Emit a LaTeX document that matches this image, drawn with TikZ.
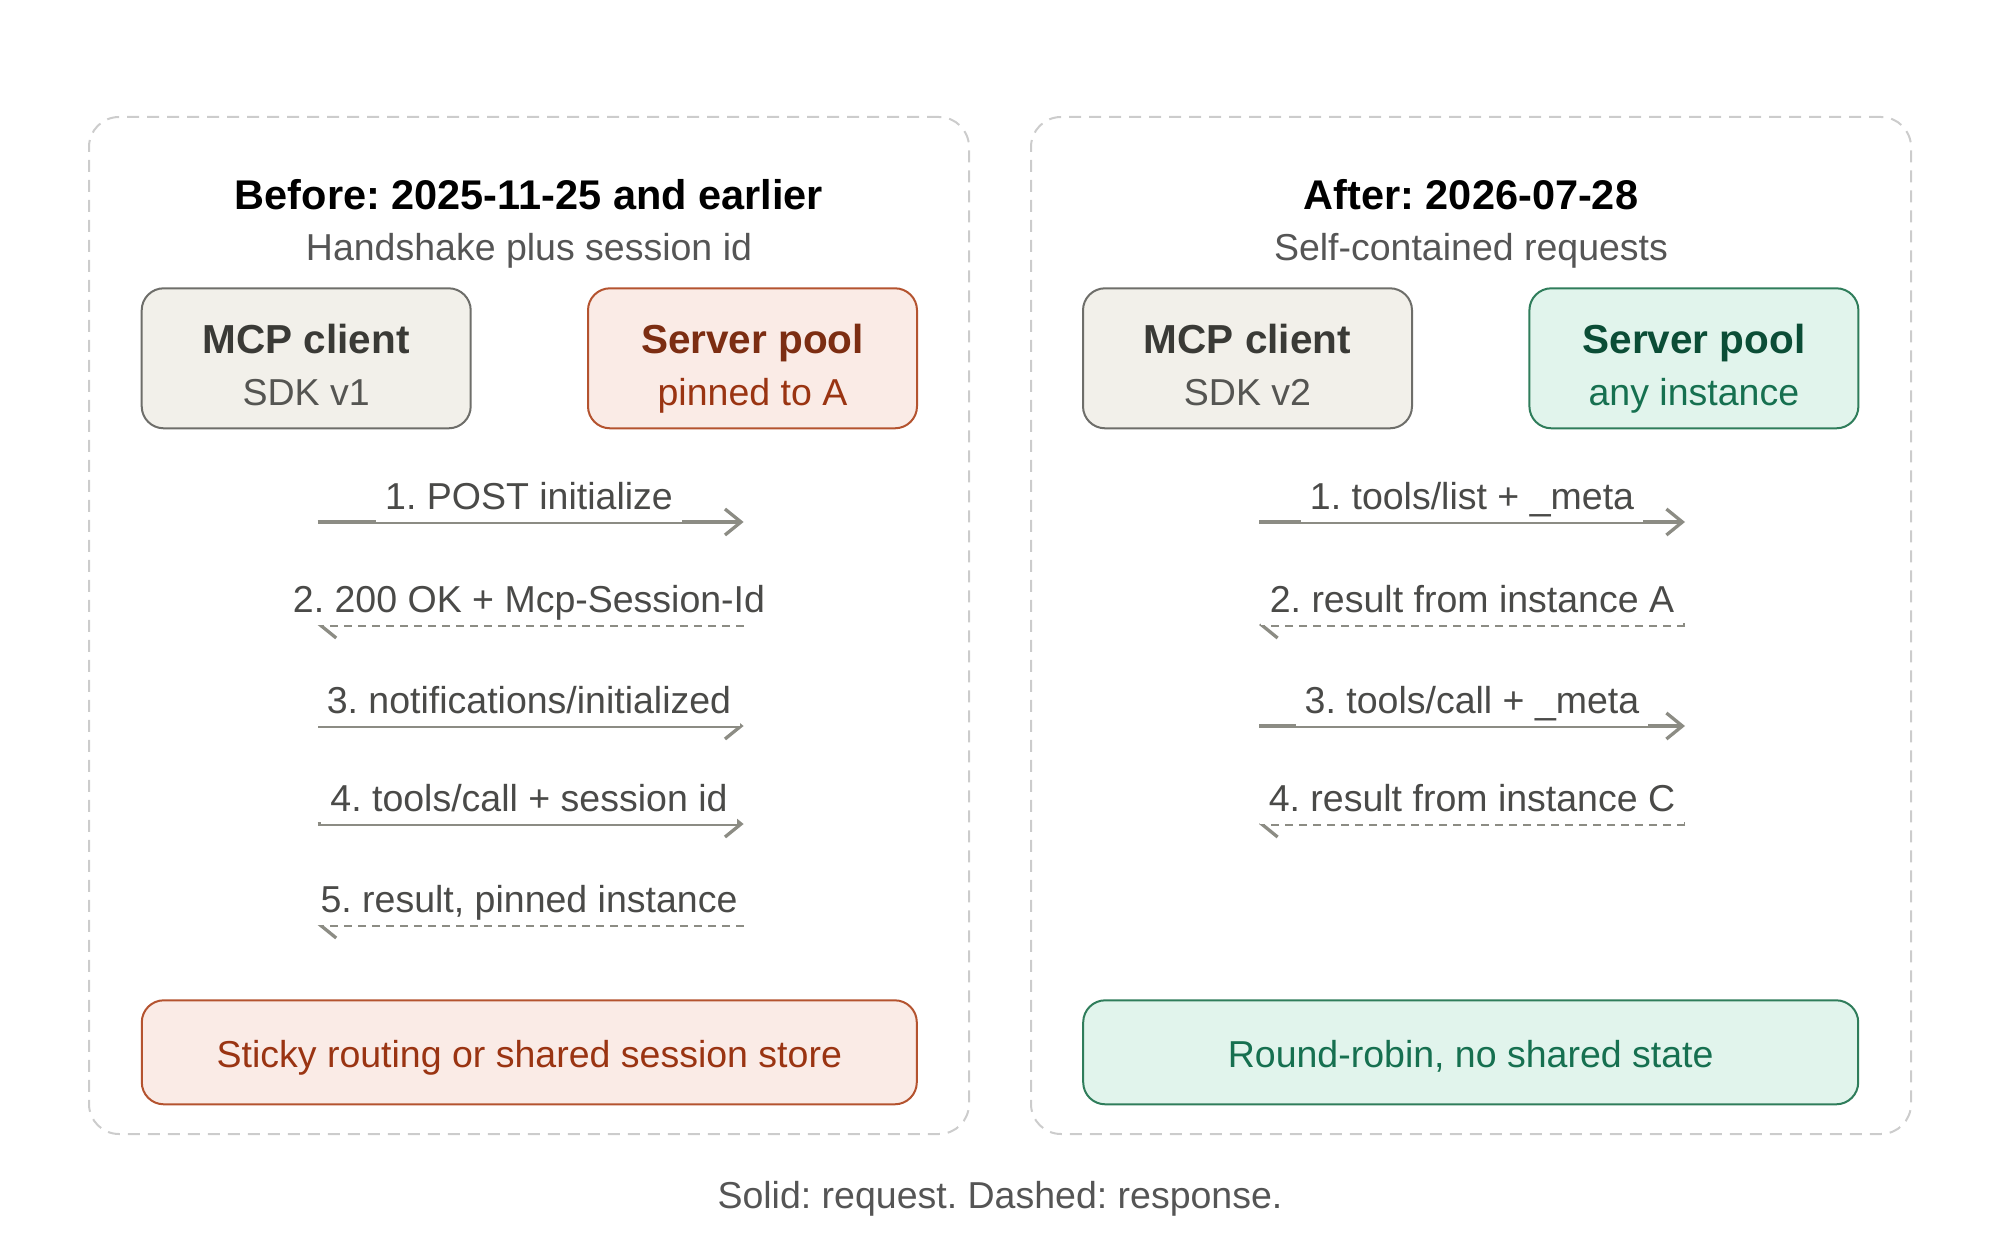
\documentclass[tikz,border=0pt]{standalone}
\usepackage{fontspec}
\setmainfont{Liberation Sans}
\usetikzlibrary{arrows.meta}
\definecolor{panelc}{HTML}{CCCCCC}
\definecolor{clifill}{HTML}{F2F0EA}
\definecolor{clidraw}{HTML}{6E6E6A}
\definecolor{clititle}{HTML}{3A3A36}
\definecolor{clisub}{HTML}{555552}
\definecolor{redfill}{HTML}{FAEBE6}
\definecolor{reddraw}{HTML}{B4532F}
\definecolor{redtitle}{HTML}{7C2D12}
\definecolor{redsub}{HTML}{9A3412}
\definecolor{grnfill}{HTML}{E1F4EC}
\definecolor{grndraw}{HTML}{2F7D5B}
\definecolor{grntitle}{HTML}{0B4D36}
\definecolor{grnsub}{HTML}{167050}
\definecolor{arrc}{HTML}{8C8C84}
\definecolor{labc}{HTML}{4A4A48}
\definecolor{subc}{HTML}{555555}
\newcommand\fslab{\fontsize{37.5}{45}\selectfont\frenchspacing}
\newcommand\fshead{\fontsize{41.5}{50}\selectfont\bfseries\frenchspacing}
\newcommand\fsboxt{\fontsize{40.5}{48}\selectfont\bfseries\frenchspacing}
\begin{document}
\frenchspacing
\begin{tikzpicture}[x=1pt,y=-1pt,
  panelbox/.style={draw=panelc, dash pattern=on 12pt off 8pt, line width=2pt, rounded corners=30pt, minimum width=880pt, minimum height=1017pt, inner sep=0pt},
  basebox/.style={rounded corners=22pt, line width=2pt, minimum width=329pt, minimum height=140pt, inner sep=0pt},
  clibox/.style={basebox, draw=clidraw, fill=clifill},
  redbox/.style={basebox, draw=reddraw, fill=redfill},
  grnbox/.style={basebox, draw=grndraw, fill=grnfill},
  widebox/.style={minimum width=775pt, minimum height=104pt},
  headtxt/.style={anchor=base, font=\fshead, text=black, inner sep=0pt},
  subtxt/.style={anchor=base, font=\fslab, text=subc, inner sep=0pt},
  boxtitle/.style={anchor=base, font=\fsboxt, inner sep=0pt},
  boxsub/.style={anchor=base, font=\fslab, inner sep=0pt},
  lab/.style={anchor=south, fill=white, font=\fslab, text=labc, inner xsep=9pt, inner ysep=4pt, text height=28pt, text depth=8pt},
  req/.style={draw=arrc, line width=3.3pt, -{Straight Barb[length=16pt,width=26pt]}},
  resp/.style={req, dash pattern=on 8pt off 6pt},
]
\useasboundingbox (0,0) rectangle (2000,1244);

% panels
\node[panelbox] (lp) at (529,625.5) {};
\node[panelbox] (rp) at (1471,625.5) {};

% left panel
\node[headtxt] (lt) at (529,209) {Before: 2025-11-25 and earlier};
\node[subtxt] (ls) at (529,260) {Handshake plus session id};
\node[clibox] (c1) at (306.2,358.3) {};
\node[boxtitle, text=clititle] (c1t) at (306.2,353) {MCP client};
\node[boxsub, text=clisub] (c1s) at (306.2,405) {SDK v1};
\node[redbox] (s1) at (752.5,358.3) {};
\node[boxtitle, text=redtitle] (s1t) at (752.5,353) {Server pool};
\node[boxsub, text=redsub] (s1s) at (752.5,405) {pinned to A};

\coordinate (a1l) at (317.6,522); \coordinate (a1r) at (743.6,522);
\coordinate (a2l) at (317.6,625); \coordinate (a2r) at (743.6,625);
\coordinate (a3l) at (317.6,726); \coordinate (a3r) at (743.6,726);
\coordinate (a4l) at (317.6,824); \coordinate (a4r) at (743.6,824);
\coordinate (a5l) at (317.6,925); \coordinate (a5r) at (743.6,925);
\draw[req] (a1l) -- (a1r);
\node[lab] (m1) at (529,522) {1. POST initialize};
\draw[resp] (a2r) -- (a2l);
\node[lab] (m2) at (529,625) {2. 200 OK + Mcp-Session-Id};
\draw[req] (a3l) -- (a3r);
\node[lab] (m3) at (529,726) {3. notifications/initialized};
\draw[req] (a4l) -- (a4r);
\node[lab] (m4) at (529,824) {4. tools/call + session id};
\draw[resp] (a5r) -- (a5l);
\node[lab] (m5) at (529,925) {5. result, pinned instance};

\node[redbox, widebox] (b1) at (529.3,1052.3) {};
\node[boxsub, text=redsub] (b1t) at (529.3,1067) {Sticky routing or shared session store};

% right panel
\node[headtxt] (rt) at (1471,209) {After: 2026-07-28};
\node[subtxt] (rs) at (1471,260) {Self-contained requests};
\node[clibox] (c2) at (1247.5,358.3) {};
\node[boxtitle, text=clititle] (c2t) at (1247.5,353) {MCP client};
\node[boxsub, text=clisub] (c2s) at (1247.5,405) {SDK v2};
\node[grnbox] (s2) at (1693.9,358.3) {};
\node[boxtitle, text=grntitle] (s2t) at (1693.9,353) {Server pool};
\node[boxsub, text=grnsub] (s2s) at (1693.9,405) {any instance};

\coordinate (r1l) at (1259,522); \coordinate (r1r) at (1685,522);
\coordinate (r2l) at (1259,625); \coordinate (r2r) at (1685,625);
\coordinate (r3l) at (1259,726); \coordinate (r3r) at (1685,726);
\coordinate (r4l) at (1259,824); \coordinate (r4r) at (1685,824);
\draw[req] (r1l) -- (r1r);
\node[lab] (n1) at (1472,522) {1. tools/list + \_meta};
\draw[resp] (r2r) -- (r2l);
\node[lab] (n2) at (1472,625) {2. result from instance A};
\draw[req] (r3l) -- (r3r);
\node[lab] (n3) at (1472,726) {3. tools/call + \_meta};
\draw[resp] (r4r) -- (r4l);
\node[lab] (n4) at (1472,824) {4. result from instance C};

\node[grnbox, widebox] (b2) at (1470.7,1052.3) {};
\node[boxsub, text=grnsub] (b2t) at (1470.7,1067) {Round-robin, no shared state};

% caption
\node[subtxt] (cap) at (1000,1208) {Solid: request. Dashed: response.};
\end{tikzpicture}
\end{document}
